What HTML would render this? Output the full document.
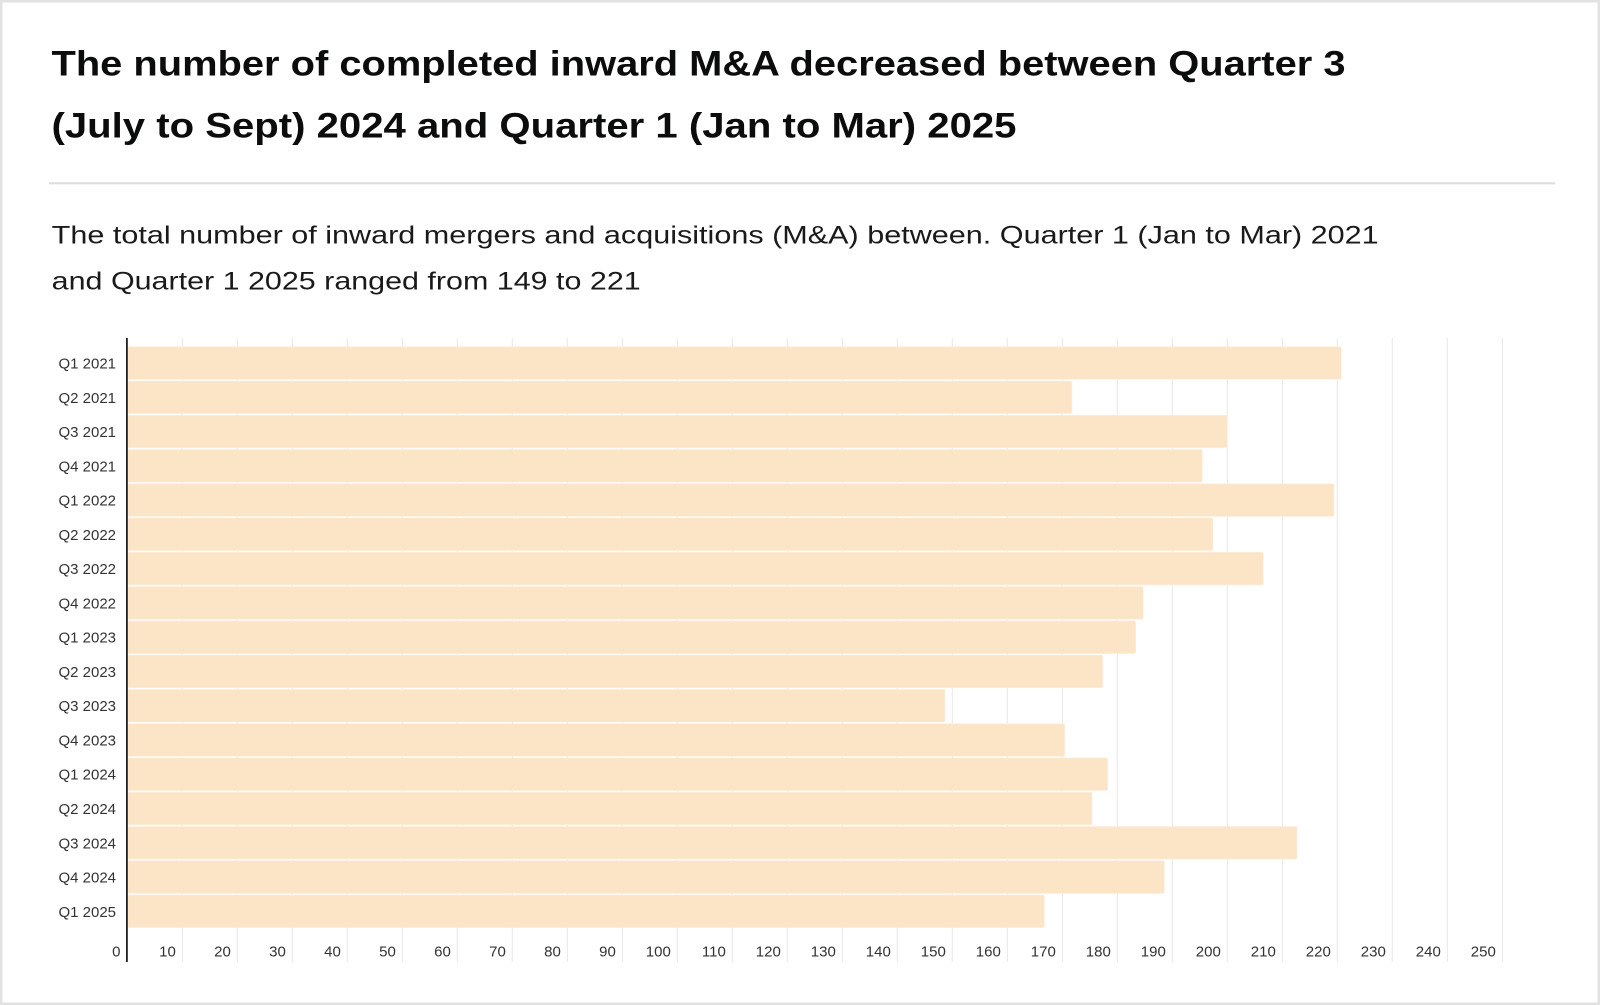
<!DOCTYPE html>
<html>
<head>
<meta charset="utf-8">
<style>
  html, body { margin: 0; padding: 0; background: #ffffff; }
  svg { display: block; }
  .t { font-family: "Liberation Sans", Arial, sans-serif; }
</style>
</head>
<body>
<svg width="1600" height="1005" viewBox="0 0 1600 1005" xmlns="http://www.w3.org/2000/svg">
  <rect x="0" y="0" width="1600" height="1005" fill="#ffffff"/>
  <rect x="1.25" y="1.25" width="1597.5" height="1002.5" fill="none" stroke="#e2e2e2" stroke-width="2.5"/>

  <!-- Title -->
  <text class="t" x="51.5" y="75.7" font-size="35" font-weight="bold" fill="#0b0c0c" textLength="1294" lengthAdjust="spacingAndGlyphs">The number of completed inward M&amp;A decreased between Quarter 3</text>
  <text class="t" x="51.5" y="137.3" font-size="35" font-weight="bold" fill="#0b0c0c" textLength="965" lengthAdjust="spacingAndGlyphs">(July to Sept) 2024 and Quarter 1 (Jan to Mar) 2025</text>

  <!-- Separator -->
  <rect x="49" y="182.3" width="1506" height="2" fill="#dcdcdc"/>

  <!-- Subtitle -->
  <text class="t" x="51.7" y="243.3" font-size="25" fill="#1a1a1a" textLength="1327" lengthAdjust="spacingAndGlyphs">The total number of inward mergers and acquisitions (M&amp;A) between. Quarter 1 (Jan to Mar) 2021</text>
  <text class="t" x="51.7" y="289.5" font-size="25" fill="#1a1a1a" textLength="589" lengthAdjust="spacingAndGlyphs">and Quarter 1 2025 ranged from 149 to 221</text>

  <!-- Gridlines -->
  <g stroke="#e8e8e8" stroke-width="1">
    <line x1="182.3" y1="338" x2="182.3" y2="962"/>
    <line x1="237.3" y1="338" x2="237.3" y2="962"/>
    <line x1="292.3" y1="338" x2="292.3" y2="962"/>
    <line x1="347.3" y1="338" x2="347.3" y2="962"/>
    <line x1="402.3" y1="338" x2="402.3" y2="962"/>
    <line x1="457.3" y1="338" x2="457.3" y2="962"/>
    <line x1="512.3" y1="338" x2="512.3" y2="962"/>
    <line x1="567.3" y1="338" x2="567.3" y2="962"/>
    <line x1="622.3" y1="338" x2="622.3" y2="962"/>
    <line x1="677.3" y1="338" x2="677.3" y2="962"/>
    <line x1="732.3" y1="338" x2="732.3" y2="962"/>
    <line x1="787.3" y1="338" x2="787.3" y2="962"/>
    <line x1="842.3" y1="338" x2="842.3" y2="962"/>
    <line x1="897.3" y1="338" x2="897.3" y2="962"/>
    <line x1="952.3" y1="338" x2="952.3" y2="962"/>
    <line x1="1007.3" y1="338" x2="1007.3" y2="962"/>
    <line x1="1062.3" y1="338" x2="1062.3" y2="962"/>
    <line x1="1117.3" y1="338" x2="1117.3" y2="962"/>
    <line x1="1172.3" y1="338" x2="1172.3" y2="962"/>
    <line x1="1227.3" y1="338" x2="1227.3" y2="962"/>
    <line x1="1282.3" y1="338" x2="1282.3" y2="962"/>
    <line x1="1337.3" y1="338" x2="1337.3" y2="962"/>
    <line x1="1392.3" y1="338" x2="1392.3" y2="962"/>
    <line x1="1447.3" y1="338" x2="1447.3" y2="962"/>
    <line x1="1502.3" y1="338" x2="1502.3" y2="962"/>
  </g>

  <!-- Bars -->
  <g fill="#fce5c7" stroke="#fdeede" stroke-width="0.6">
    <rect x="128" y="346.7" width="1213.3" height="32.6" rx="1.5"/>
    <rect x="128" y="381.0" width="944.0" height="32.6" rx="1.5"/>
    <rect x="128" y="415.2" width="1099.3" height="32.6" rx="1.5"/>
    <rect x="128" y="449.5" width="1074.3" height="32.6" rx="1.5"/>
    <rect x="128" y="483.8" width="1206.0" height="32.6" rx="1.5"/>
    <rect x="128" y="518.0" width="1085.0" height="32.6" rx="1.5"/>
    <rect x="128" y="552.3" width="1135.3" height="32.6" rx="1.5"/>
    <rect x="128" y="586.6" width="1015.3" height="32.6" rx="1.5"/>
    <rect x="128" y="620.9" width="1007.7" height="32.6" rx="1.5"/>
    <rect x="128" y="655.1" width="974.7" height="32.6" rx="1.5"/>
    <rect x="128" y="689.4" width="817.0" height="32.6" rx="1.5"/>
    <rect x="128" y="723.7" width="936.7" height="32.6" rx="1.5"/>
    <rect x="128" y="757.9" width="979.7" height="32.6" rx="1.5"/>
    <rect x="128" y="792.2" width="964.0" height="32.6" rx="1.5"/>
    <rect x="128" y="826.5" width="1169.0" height="32.6" rx="1.5"/>
    <rect x="128" y="860.8" width="1036.3" height="32.6" rx="1.5"/>
    <rect x="128" y="895.0" width="916.3" height="32.6" rx="1.5"/>
  </g>

  <!-- Y axis line -->
  <rect x="126" y="338" width="1.8" height="624" fill="#1f1f1f"/>

  <!-- Category labels -->
  <g class="t" font-size="15" fill="#333333" text-anchor="end">
    <text x="116" y="368.5">Q1 2021</text>
    <text x="116" y="402.8">Q2 2021</text>
    <text x="116" y="437.0">Q3 2021</text>
    <text x="116" y="471.3">Q4 2021</text>
    <text x="116" y="505.6">Q1 2022</text>
    <text x="116" y="539.8">Q2 2022</text>
    <text x="116" y="574.1">Q3 2022</text>
    <text x="116" y="608.4">Q4 2022</text>
    <text x="116" y="642.7">Q1 2023</text>
    <text x="116" y="676.9">Q2 2023</text>
    <text x="116" y="711.2">Q3 2023</text>
    <text x="116" y="745.5">Q4 2023</text>
    <text x="116" y="779.7">Q1 2024</text>
    <text x="116" y="814.0">Q2 2024</text>
    <text x="116" y="848.3">Q3 2024</text>
    <text x="116" y="882.6">Q4 2024</text>
    <text x="116" y="916.8">Q1 2025</text>
  </g>

  <!-- X tick labels -->
  <g class="t" font-size="15" fill="#333333" text-anchor="end">
    <text x="120.5" y="956.5">0</text>
    <text x="175.8" y="956.5">10</text>
    <text x="230.8" y="956.5">20</text>
    <text x="285.8" y="956.5">30</text>
    <text x="340.8" y="956.5">40</text>
    <text x="395.8" y="956.5">50</text>
    <text x="450.8" y="956.5">60</text>
    <text x="505.8" y="956.5">70</text>
    <text x="560.8" y="956.5">80</text>
    <text x="615.8" y="956.5">90</text>
    <text x="670.8" y="956.5">100</text>
    <text x="725.8" y="956.5">110</text>
    <text x="780.8" y="956.5">120</text>
    <text x="835.8" y="956.5">130</text>
    <text x="890.8" y="956.5">140</text>
    <text x="945.8" y="956.5">150</text>
    <text x="1000.8" y="956.5">160</text>
    <text x="1055.8" y="956.5">170</text>
    <text x="1110.8" y="956.5">180</text>
    <text x="1165.8" y="956.5">190</text>
    <text x="1220.8" y="956.5">200</text>
    <text x="1275.8" y="956.5">210</text>
    <text x="1330.8" y="956.5">220</text>
    <text x="1385.8" y="956.5">230</text>
    <text x="1440.8" y="956.5">240</text>
    <text x="1495.8" y="956.5">250</text>
  </g>
</svg>
</body>
</html>
